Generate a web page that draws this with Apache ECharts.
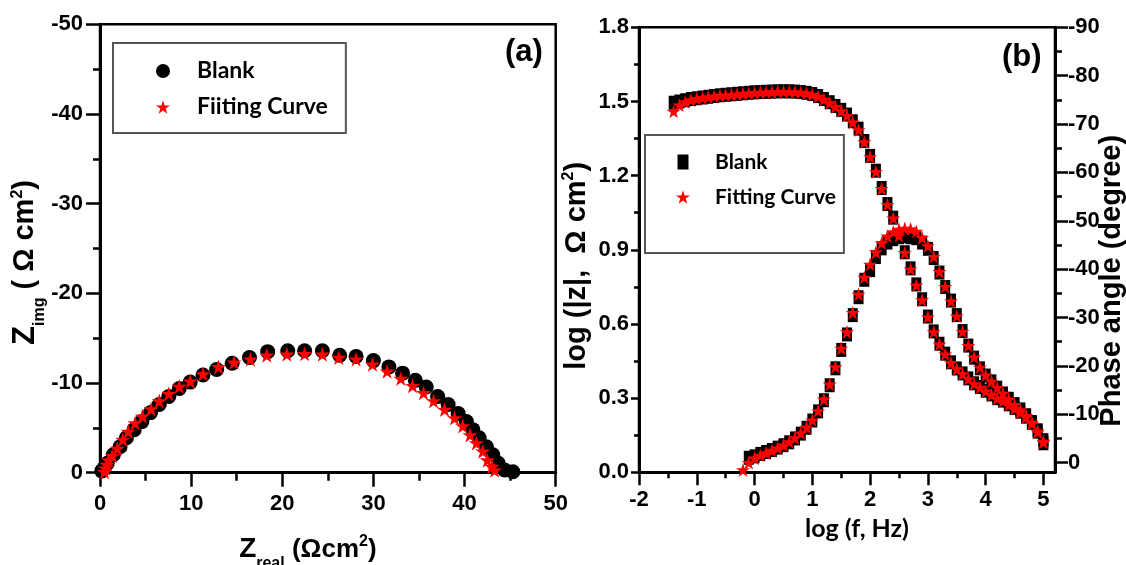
<!DOCTYPE html>
<html><head><meta charset="utf-8">
<script src="https://cdn.jsdelivr.net/npm/echarts@6/dist/echarts.min.js"></script>
<style>html,body{margin:0;padding:0;background:#fff}#c{width:1126px;height:565px}</style>
</head><body><div id="c"></div>
<script>
// ---------- Panel (a): Nyquist ----------
const nyqBlankRe = [0.2,0.5,0.8,1.46,2.2,2.9,3.75,4.6,5.55,6.5,7.55,8.7,9.9,11.3,12.8,14.5,16.4,18.4,20.6,22.45,24.4,26.3,28.1,30.0,31.7,33.2,34.6,35.8,37.05,38.2,39.3,40.2,40.9,41.6,42.4,43.1,43.7,44.4,45.3];
const nyqBlankIm = [-0.2,-0.6,-1.05,-2.0,-2.9,-3.9,-4.8,-5.7,-6.7,-7.6,-8.5,-9.4,-10.1,-10.9,-11.5,-12.2,-12.85,-13.5,-13.6,-13.6,-13.6,-13.1,-12.97,-12.5,-11.8,-11.1,-10.3,-9.55,-8.5,-7.6,-6.6,-5.7,-4.8,-3.9,-2.9,-2.0,-1.05,-0.3,-0.1];
const nyqFitRe = [0.5,0.6,0.75,0.95,1.35,1.9,2.5,3.1,3.85,4.65,5.6,6.5,7.55,8.7,9.9,11.3,13.0,14.7,16.5,18.3,20.5,22.45,24.4,26.2,28.1,29.9,31.5,33.0,34.3,35.5,36.6,37.8,38.9,39.8,40.6,41.3,42.0,42.5,43.0,43.3];
const nyqFitIm = [-0.1,-0.5,-0.9,-1.4,-1.9,-2.7,-3.7,-4.6,-5.55,-6.3,-7.1,-8.0,-8.8,-9.6,-10.2,-11.0,-11.8,-12.3,-12.66,-13.1,-13.2,-13.25,-13.2,-12.85,-12.66,-12.1,-11.3,-10.5,-9.7,-8.9,-8.0,-7.05,-6.1,-5.2,-4.2,-3.3,-2.4,-1.4,-0.7,-0.27];

// ---------- Panel (b): Bode ----------
const bodeLogF = [-1.4,-1.3,-1.2,-1.1,-1.0,-0.9,-0.8,-0.7,-0.6,-0.5,-0.4,-0.3,-0.2,-0.1,0.0,0.1,0.2,0.3,0.4,0.5,0.6,0.7,0.8,0.9,1.0,1.1,1.2,1.3,1.4,1.5,1.6,1.7,1.8,1.9,2.0,2.1,2.2,2.3,2.4,2.5,2.6,2.7,2.8,2.9,3.0,3.1,3.2,3.3,3.4,3.5,3.6,3.7,3.8,3.9,4.0,4.1,4.2,4.3,4.4,4.5,4.6,4.7,4.8,4.9,5.0];
const blankLogZ = [1.495,1.500,1.505,1.510,1.513,1.516,1.519,1.522,1.525,1.527,1.529,1.531,1.533,1.535,1.537,1.538,1.539,1.540,1.541,1.541,1.541,1.540,1.538,1.535,1.530,1.522,1.510,1.497,1.482,1.466,1.447,1.420,1.390,1.340,1.280,1.220,1.150,1.085,1.030,0.960,0.890,0.825,0.760,0.700,0.630,0.570,0.520,0.480,0.445,0.420,0.400,0.380,0.360,0.345,0.330,0.315,0.300,0.290,0.275,0.260,0.245,0.225,0.200,0.170,0.130];
const fitLogZ = [1.460,1.485,1.498,1.506,1.511,1.515,1.518,1.521,1.524,1.526,1.528,1.530,1.532,1.534,1.536,1.537,1.538,1.539,1.540,1.540,1.540,1.539,1.537,1.534,1.528,1.520,1.508,1.494,1.479,1.462,1.443,1.416,1.385,1.336,1.276,1.216,1.147,1.083,1.028,0.958,0.888,0.822,0.757,0.697,0.628,0.568,0.518,0.478,0.443,0.418,0.398,0.378,0.358,0.343,0.328,0.313,0.299,0.288,0.273,0.258,0.243,0.223,0.197,0.166,0.125];
const phaseLogFBlank = [-0.1,0.0,0.1,0.2,0.3,0.4,0.5,0.6,0.7,0.8,0.9,1.0,1.1,1.2,1.3,1.4,1.5,1.6,1.7,1.8,1.9,2.0,2.1,2.2,2.3,2.4,2.5,2.6,2.7,2.8,2.9,3.0,3.1,3.2,3.3,3.4,3.5,3.6,3.7,3.8,3.9,4.0,4.1,4.2,4.3,4.4,4.5,4.6,4.7,4.8,4.9,5.0];
const blankPhase = [-1.0,-1.3,-1.8,-2.2,-2.6,-3.1,-3.6,-4.2,-5.0,-6.0,-7.2,-8.7,-10.6,-12.9,-16.0,-19.5,-23.3,-26.5,-30.5,-34.2,-37.8,-39.8,-42.5,-44.3,-45.5,-46.2,-46.6,-46.8,-46.6,-46.4,-45.5,-44.2,-42.3,-39.3,-36.3,-33.5,-30.5,-27.2,-24.2,-21.7,-19.5,-18.0,-16.8,-15.5,-14.3,-13.2,-12.1,-11.0,-9.8,-8.4,-6.4,-4.0];
const phaseLogFFit = [-0.2,-0.1,0.0,0.1,0.2,0.3,0.4,0.5,0.6,0.7,0.8,0.9,1.0,1.1,1.2,1.3,1.4,1.5,1.6,1.7,1.8,1.9,2.0,2.1,2.2,2.3,2.4,2.5,2.6,2.7,2.8,2.9,3.0,3.1,3.2,3.3,3.4,3.5,3.6,3.7,3.8,3.9,4.0,4.1,4.2,4.3,4.4,4.5,4.6,4.7,4.8,4.9,5.0];
const fitPhase = [1.5,0.0,-0.9,-1.5,-2.0,-2.5,-3.0,-3.6,-4.3,-5.1,-6.1,-7.3,-8.8,-10.7,-13.1,-16.2,-19.8,-23.6,-27.0,-31.0,-34.8,-38.3,-41.0,-43.5,-45.4,-46.8,-47.7,-48.2,-48.4,-48.3,-47.8,-46.5,-44.8,-42.6,-39.5,-36.4,-33.4,-30.3,-27.1,-24.2,-21.8,-19.7,-18.1,-16.8,-15.5,-14.3,-13.1,-12.0,-10.9,-9.7,-8.3,-6.3,-4.2];

// ---------- tick values ----------
const xTicksB = [-2,-1,0,1,2,3,4,5];
const xMinorB = [-1.5,-0.5,0.5,1.5,2.5,3.5,4.5];
const phaseTicks = [-90,-80,-70,-60,-50,-40,-30,-20,-10,0];
const phaseMinor = [-85,-75,-65,-55,-45,-35,-25,-15,-5];

const zip = (a, b) => a.map((v, i) => [v, b[i]]);
const STAR = 'path://M50,0L61.2,34.5L97.6,34.5L68.2,55.9L79.4,90.5L50,69.1L20.6,90.5L31.8,55.9L2.4,34.5L38.8,34.5Z';
const RECT = 'path://M0,0H11V15H0Z';
const LATO = "Lato,'Liberation Sans',sans-serif";
const SANS = "'Liberation Sans',Arial,sans-serif";
const lbl = {color:'#000', fontSize:22, fontWeight:'bold', fontFamily:SANS};
const line = {onZero:false, lineStyle:{color:'#000', width:3}};
const tk = (len, w) => ({length:len, lineStyle:{color:'#000', width:w||2.5}});
const mk = (fs) => ({
  z:{fontSize:fs+2, fontWeight:'bold', fontFamily:SANS, color:'#000', lineHeight:40},
  t:{fontSize:fs, fontWeight:'bold', fontFamily:SANS, color:'#000', lineHeight:40},
  sub:{fontSize:16, fontWeight:'bold', fontFamily:SANS, color:'#000', lineHeight:40, padding:[28,0,0,0]},
  sup:{fontSize:16, fontWeight:'bold', fontFamily:SANS, color:'#000', lineHeight:40, padding:[0,0,16,0]}
});

const chart = echarts.init(document.getElementById('c'), null, {renderer:'canvas'});
chart.setOption({
  animation:false,
  backgroundColor:'#fff',
  title:[
    {text:'(a)', left:505, top:37, padding:0, textStyle:{fontSize:31, fontWeight:'bold', fontFamily:SANS, color:'#000'}},
    {text:'(b)', left:1002, top:42, padding:0, textStyle:{fontSize:31, fontWeight:'bold', fontFamily:SANS, color:'#000'}}
  ],
  grid:[
    {left:100, top:24.3, width:455.7, height:448.4, show:true, borderColor:'#000', borderWidth:2.5, containLabel:false, outerBoundsMode:'none'},
    {left:639, top:27.3, width:416, height:445, show:true, borderColor:'#000', borderWidth:2.5, containLabel:false, outerBoundsMode:'none'}
  ],
  legend:[
    {orient:'vertical', left:113, top:43, selectedMode:false, itemWidth:14, itemHeight:14, itemGap:10,
     padding:[15,18,13,43], borderColor:'#555', borderWidth:2, backgroundColor:'#fff',
     textStyle:{fontSize:23, fontWeight:'bold', fontFamily:LATO, color:'#000', lineHeight:26, padding:[0,0,0,22]},
     data:[{name:'Blank', icon:'circle'}, {name:'Fiiting Curve', icon:STAR}]},
    {orient:'vertical', left:645, top:135, selectedMode:false, itemWidth:14, itemHeight:15, itemGap:9,
     padding:[14,8,43,31], borderColor:'#555', borderWidth:2, backgroundColor:'#fff',
     textStyle:{fontSize:21, fontWeight:'bold', fontFamily:LATO, color:'#000', lineHeight:26, padding:[0,0,0,20]},
     data:[{name:'Blank', icon:RECT}, {name:'Fitting Curve', icon:STAR}]}
  ],
  xAxis:[
    {gridIndex:0, type:'value', min:0, max:50, interval:10, axisLine:line, axisTick:tk(14), splitLine:{show:false},
     minorTick:{show:true, splitNumber:2, length:8, lineStyle:{color:'#000', width:2.5}},
     axisLabel:Object.assign({margin:20}, lbl),
     name:'{z|Z}{sub|real}{t| (Ωcm}{sup|2}{t|)}', nameLocation:'middle', nameGap:57,
     nameTextStyle:{rich:mk(26), padding:[0,40,0,0]}},
    {gridIndex:1, type:'value', min:-2, max:5.2, axisLine:line, splitLine:{show:false},
     axisTick:Object.assign({customValues:xTicksB}, tk(13)),
     axisLabel:Object.assign({margin:17, customValues:xTicksB}, lbl),
     name:'log (f, Hz)', nameLocation:'middle', nameGap:40,
     nameTextStyle:{fontSize:25, fontWeight:'bold', fontFamily:LATO, color:'#000', padding:[0,0,0,20]}},
    {gridIndex:1, type:'value', min:-2, max:5.2, position:'bottom', axisLine:{show:false, onZero:false}, splitLine:{show:false},
     axisLabel:{show:false}, axisTick:Object.assign({customValues:xMinorB}, tk(6))}
  ],
  yAxis:[
    {gridIndex:0, type:'value', min:-50, max:0, interval:10, inverse:true, axisLine:line, axisTick:tk(14), splitLine:{show:false},
     minorTick:{show:true, splitNumber:2, length:7, lineStyle:{color:'#000', width:2.5}},
     axisLabel:Object.assign({margin:17}, lbl),
     name:'{z|Z}{sub|img}{t| ( Ω cm}{sup|2}{t|)}', nameLocation:'middle', nameGap:52,
     nameTextStyle:{rich:mk(29), padding:[0,28,0,0]}},
    {gridIndex:1, type:'value', min:0, max:1.8, interval:0.3, position:'left', axisLine:line, axisTick:tk(8), splitLine:{show:false},
     minorTick:{show:true, splitNumber:2, length:5, lineStyle:{color:'#000', width:2.5}},
     axisLabel:Object.assign({margin:10, formatter:v => v.toFixed(1)}, lbl),
     name:'{t|log (|z|,  Ω cm}{sup|2}{t|)}', nameLocation:'middle', nameGap:42,
     nameTextStyle:{rich:mk(29), padding:[0,32,0,0]}},
    {gridIndex:1, type:'value', min:-90, max:2, inverse:true, position:'right', axisLine:line, splitLine:{show:false},
     axisTick:Object.assign({customValues:phaseTicks}, tk(13)),
     axisLabel:Object.assign({margin:13, customValues:phaseTicks}, lbl),
     name:'Phase angle (degree)', nameLocation:'middle', nameGap:42, nameRotate:90, nameMoveOverlap:false,
     nameTextStyle:{fontSize:29, fontWeight:'bold', fontFamily:SANS, color:'#000', padding:[0,62,0,0]}},
    {gridIndex:1, type:'value', min:-90, max:2, inverse:true, position:'right', axisLine:{show:false, onZero:false}, splitLine:{show:false},
     axisLabel:{show:false}, axisTick:Object.assign({customValues:phaseMinor}, tk(7))}
  ],
  series:[
    {name:'Blank', type:'scatter', xAxisIndex:0, yAxisIndex:0, symbol:'circle', symbolSize:15,
     itemStyle:{color:'#000', opacity:1}, data:zip(nyqBlankRe, nyqBlankIm)},
    {name:'Fiiting Curve', type:'scatter', xAxisIndex:0, yAxisIndex:0, symbol:STAR, symbolSize:15,
     itemStyle:{color:'#ff0000', opacity:1}, data:zip(nyqFitRe, nyqFitIm)},
    {name:'Blank', type:'scatter', xAxisIndex:1, yAxisIndex:1, symbol:'rect', symbolSize:[10,14],
     itemStyle:{color:'#000', opacity:1}, data:zip(bodeLogF, blankLogZ)},
    {name:'Blank', type:'scatter', xAxisIndex:1, yAxisIndex:2, symbol:'rect', symbolSize:[10,14],
     itemStyle:{color:'#000', opacity:1}, data:zip(phaseLogFBlank, blankPhase)},
    {name:'Fitting Curve', type:'scatter', xAxisIndex:1, yAxisIndex:1, symbol:STAR, symbolSize:14,
     itemStyle:{color:'#ff0000', opacity:1}, data:zip(bodeLogF, fitLogZ)},
    {name:'Fitting Curve', type:'scatter', xAxisIndex:1, yAxisIndex:2, symbol:STAR, symbolSize:14,
     itemStyle:{color:'#ff0000', opacity:1}, data:zip(phaseLogFFit, fitPhase)}
  ]
});
</script></body></html>
